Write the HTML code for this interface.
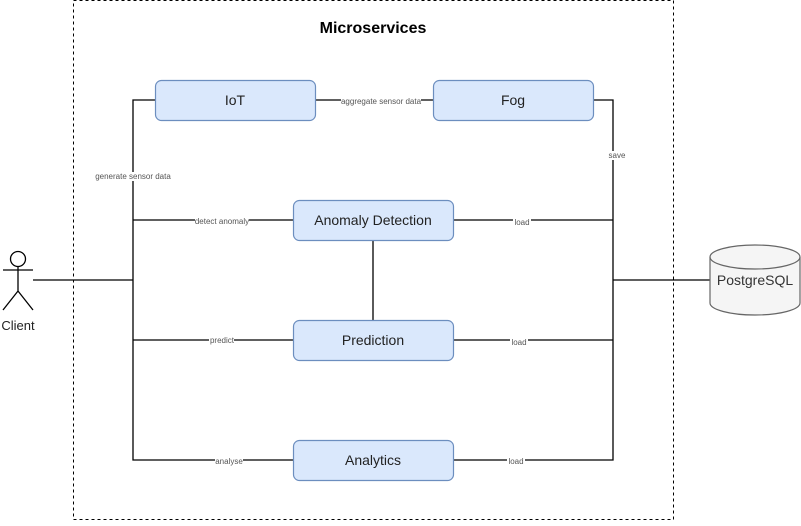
<!DOCTYPE html>
<html><head><style>body{margin:0;background:#fff}</style></head><body>
<svg width="801" height="521" xmlns="http://www.w3.org/2000/svg" font-family="Liberation Sans, Arial, sans-serif">
<rect x="73.5" y="0.5" width="600" height="519" fill="none" stroke="#000" stroke-dasharray="3,3"/>
<text x="373" y="33" text-anchor="middle" font-size="16" font-weight="bold">Microservices</text>
<g stroke="#000" stroke-width="1.3" fill="none">
<path d="M155 100H133V460H293M133 220H293M133 340H293M33 280H133"/>
<path d="M315 100H433M593 100H613V460H453M453 220H613M453 340H613M613 280H710"/>
<path d="M373 240V320"/>
<circle cx="18" cy="259" r="7.5"/>
<path d="M18 266.5V291M3 270H33M3 310L18 291L33 310"/>
</g>
<g fill="#dae8fc" stroke="#6c8ebf" stroke-width="1.2">
<rect x="155.5" y="80.5" width="160" height="40" rx="6"/>
<rect x="433.5" y="80.5" width="160" height="40" rx="6"/>
<rect x="293.5" y="200.5" width="160" height="40" rx="6"/>
<rect x="293.5" y="320.5" width="160" height="40" rx="6"/>
<rect x="293.5" y="440.5" width="160" height="40" rx="6"/>
</g>
<g font-size="14" text-anchor="middle" fill="#222">
<text x="235" y="105">IoT</text><text x="513" y="105">Fog</text>
<text x="373" y="225">Anomaly Detection</text><text x="373" y="345">Prediction</text>
<text x="373" y="465">Analytics</text>
<text x="18" y="330" font-size="13">Client</text>
</g>
<path d="M710 257A45 12 0 0 1 800 257V303A45 12 0 0 1 710 303Z" fill="#f5f5f5" stroke="#666" stroke-width="1.2"/>
<path d="M710 257A45 12 0 0 0 800 257" fill="none" stroke="#666" stroke-width="1.2"/>
<text x="755" y="285" text-anchor="middle" font-size="14" fill="#333">PostgreSQL</text>
<g font-size="8" text-anchor="middle" fill="#555">
<rect x="341" y="96" width="80" height="9" fill="#fff"/><text x="381" y="104">aggregate sensor data</text>
<rect x="94" y="172" width="78" height="9" fill="#fff"/><text x="133" y="179">generate sensor data</text>
<rect x="195" y="216" width="54" height="9" fill="#fff"/><text x="222" y="224">detect anomaly</text>
<rect x="209" y="336" width="25" height="9" fill="#fff"/><text x="222" y="343">predict</text>
<rect x="215" y="456" width="28" height="9" fill="#fff"/><text x="229" y="464">analyse</text>
<rect x="607" y="151" width="20" height="9" fill="#fff"/><text x="617" y="158">save</text>
<rect x="513" y="217" width="18" height="9" fill="#fff"/><text x="522" y="225">load</text>
<rect x="510" y="337" width="18" height="9" fill="#fff"/><text x="519" y="345">load</text>
<rect x="507" y="456" width="18" height="9" fill="#fff"/><text x="516" y="464">load</text>
</g>
</svg>
</body></html>
